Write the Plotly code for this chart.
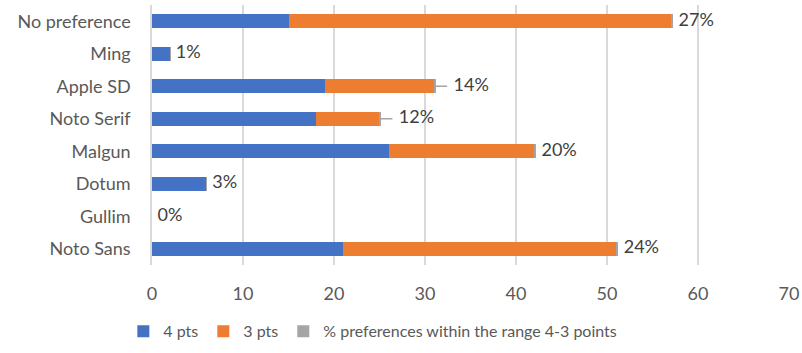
import plotly.graph_objects as go

categories = ["Noto Sans", "Gullim", "Dotum", "Malgun", "Noto Serif", "Apple SD", "Ming", "No preference"]
pts4 = [21, 0, 6, 26, 18, 19, 2, 15]
pts3 = [30, 0, 0, 16, 7, 12, 0, 42]
pct = [0.24, 0.0, 0.03, 0.20, 0.12, 0.14, 0.01, 0.27]
leader = ["Apple SD", "Noto Serif"]

FONT = "Lato"
GREY_TXT = "#595959"

fig = go.Figure()
fig.add_trace(go.Bar(y=categories, x=pts4, name="4 pts", orientation="h",
                     marker=dict(color="#4472C4", line=dict(width=0))))
fig.add_trace(go.Bar(y=categories, x=pts3, name="3 pts", orientation="h",
                     marker=dict(color="#ED7D31", line=dict(width=0))))
fig.add_trace(go.Bar(y=categories, x=pct, name="% preferences within the range 4-3 points",
                     orientation="h", marker=dict(color="#A5A5A5", line=dict(width=0))))

ends = [a + b + c for a, b, c in zip(pts4, pts3, pct)]
lab_x = []
for cat, e in zip(categories, ends):
    lab_x.append(e + (2.0 if cat in leader else 0.6))
labels = [f"{round(p * 100)}%" for p in pct]

# leader lines
for cat, e in zip(categories, ends):
    if cat in leader:
        fig.add_trace(go.Scatter(x=[e, e + 1.3], y=[cat, cat], mode="lines",
                                 line=dict(color="#A5A5A5", width=1.5),
                                 showlegend=False, hoverinfo="skip"))

fig.add_trace(go.Scatter(x=lab_x, y=categories, mode="text", text=labels,
                         textposition="middle right",
                         textfont=dict(family=FONT, size=18, color="#404040"),
                         showlegend=False, hoverinfo="skip"))

fig.update_layout(
    barmode="stack",
    bargap=0.57,
    width=802, height=353,
    margin=dict(l=152, r=13, t=5, b=86),
    paper_bgcolor="white", plot_bgcolor="white",
    font=dict(family=FONT, size=18, color=GREY_TXT),
    legend=dict(orientation="h", x=-0.045, xanchor="left", y=-0.255, yanchor="middle",
                font=dict(family=FONT, size=16, color=GREY_TXT),
                itemwidth=30, traceorder="normal", tracegroupgap=0),
    showlegend=True,
)
fig.update_xaxes(range=[0, 70], dtick=10, showgrid=True, gridcolor="#D9D9D9", gridwidth=1.5,
                 zeroline=False, showline=False, ticks="", ticklabelstandoff=16,
                 automargin=False,
                 tickfont=dict(family=FONT, size=18, color=GREY_TXT), fixedrange=True)
fig.update_yaxes(categoryorder="array", categoryarray=categories, showgrid=False,
                 showline=True, linecolor="#D9D9D9", linewidth=1.5, ticks="",
                 ticklabelstandoff=16, automargin=False,
                 tickfont=dict(family=FONT, size=18, color=GREY_TXT), fixedrange=True)

fig.write_html("out.html")
